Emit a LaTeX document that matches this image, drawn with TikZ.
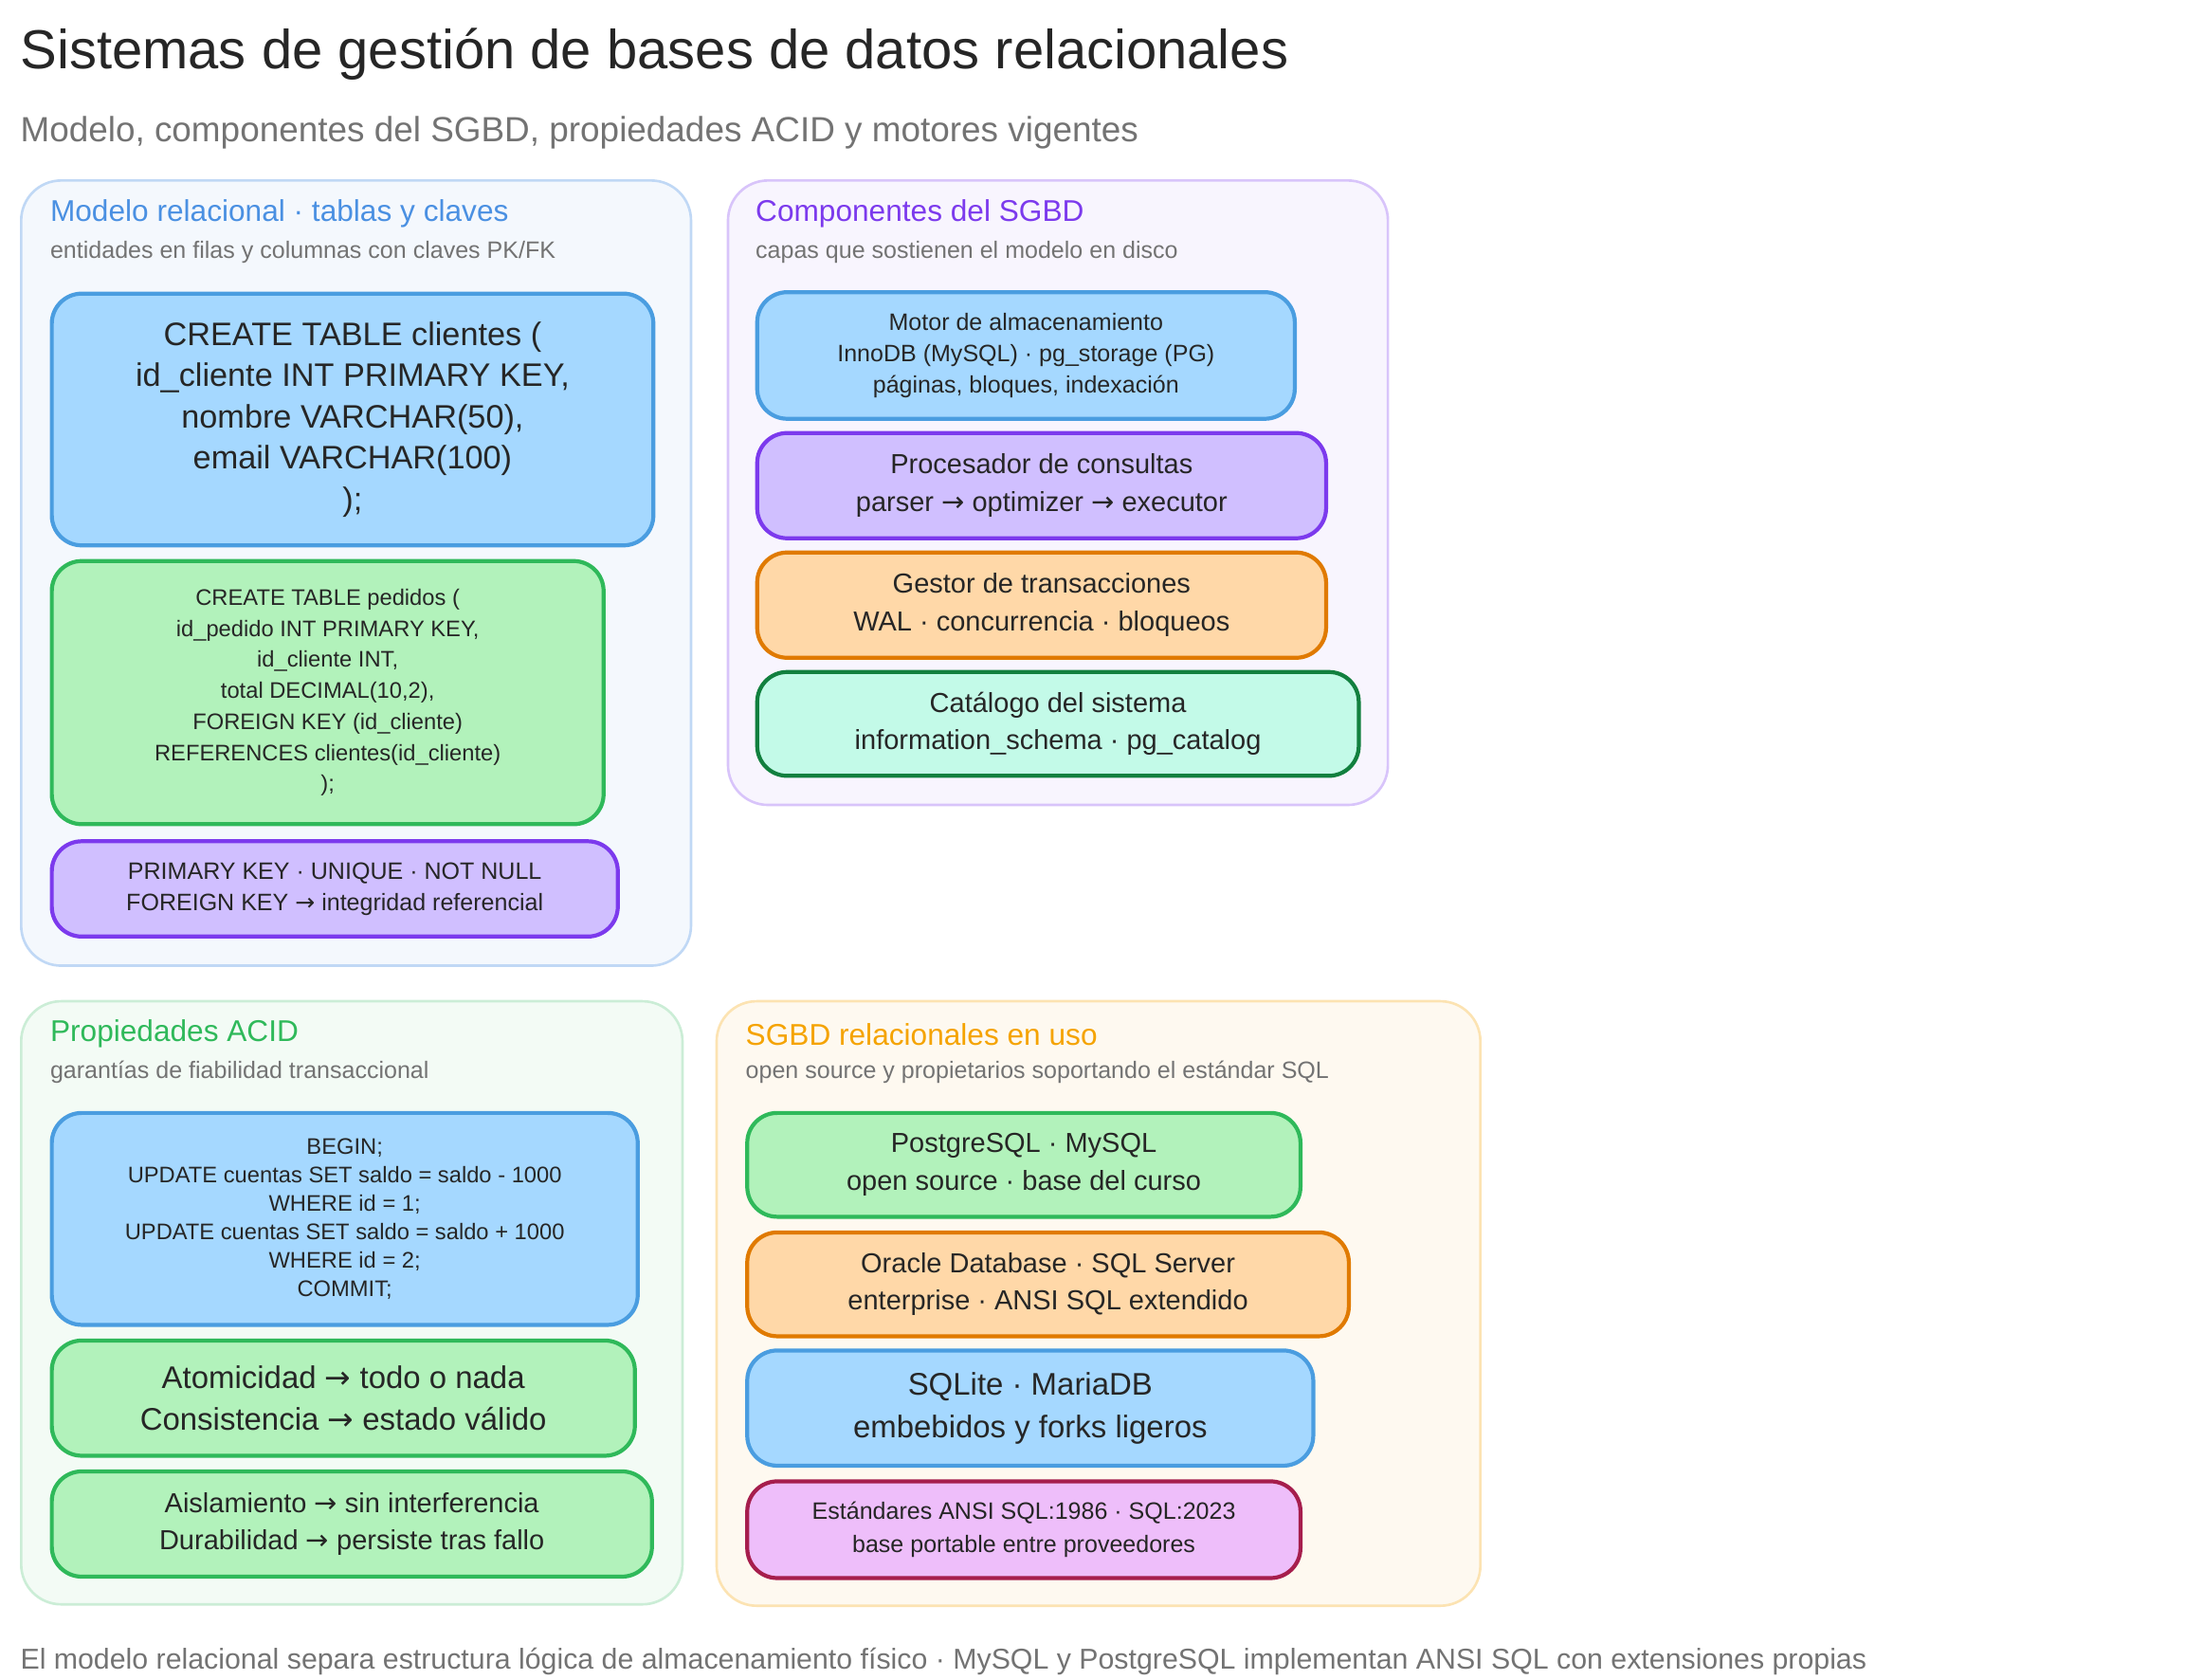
\documentclass[tikz,border=0pt]{standalone}
\usepackage{fontspec}
\setmainfont{Liberation Sans}
\newfontfamily\symfont{DejaVu Sans}
\newcommand{\ar}{{\symfont →}}
\definecolor{blueFill}{HTML}{A5D8FF}\definecolor{blueLine}{HTML}{4A9DE0}
\definecolor{greenFill}{HTML}{B2F2BB}\definecolor{greenLine}{HTML}{2FB95A}
\definecolor{purpleFill}{HTML}{D0BFFF}\definecolor{purpleLine}{HTML}{7C3AED}
\definecolor{orangeFill}{HTML}{FFD8A8}\definecolor{orangeLine}{HTML}{E07A00}
\definecolor{tealFill}{HTML}{C3FAE8}\definecolor{tealLine}{HTML}{12803F}
\definecolor{pinkFill}{HTML}{EEBEFA}\definecolor{pinkLine}{HTML}{A61E4D}
\definecolor{titleBlue}{HTML}{4A90E2}\definecolor{titleOrange}{HTML}{F5A300}

\begin{document}
\begin{tikzpicture}[x=0.02cm,y=-0.02cm,
    panel/.style 2 args={fill=#1, draw=#2, rounded corners=16pt, line width=1pt, anchor=north west, inner sep=0},
    box/.style 2 args={fill=#1, draw=#2, rounded corners=12pt, line width=1.6pt, anchor=north west, inner sep=0, align=center, text=black!85},
    ptitle/.style={anchor=west, inner sep=0, font=\fontsize{12}{14}\selectfont},
    psub/.style={anchor=west, inner sep=0, text=black!55, font=\fontsize{9.5}{12}\selectfont}]
    \useasboundingbox (0,0) rectangle (1549,1181);

    \node[anchor=west, inner sep=0, text=black!85, font=\fontsize{22}{26}\selectfont] (title) at (14,38) {Sistemas de gestión de bases de datos relacionales};
    \node[anchor=west, inner sep=0, text=black!55, font=\fontsize{14}{17}\selectfont] (subtitle) at (14,93) {Modelo, componentes del SGBD, propiedades ACID y motores vigentes};

    % modelo relacional
    \node[panel={titleBlue!6}{titleBlue!35}, minimum width=471*0.02cm, minimum height=552*0.02cm] (pRel) at (14,126) {};
    \node[ptitle, text=titleBlue] (pRelT) at (35,150) {Modelo relacional · tablas y claves};
    \node[psub] (pRelS) at (35,177) {entidades en filas y columnas con claves PK/FK};
    \node[box={blueFill}{blueLine}, minimum width=423*0.02cm, minimum height=177*0.02cm, font=\fontsize{13}{16.5}\selectfont] (clientes) at (35,205)
        {CREATE TABLE clientes (\\id\_cliente INT PRIMARY KEY,\\nombre VARCHAR(50),\\email VARCHAR(100)\\);};
    \node[box={greenFill}{greenLine}, minimum width=388*0.02cm, minimum height=185*0.02cm, font=\fontsize{9}{12.4}\selectfont] (pedidos) at (35,393)
        {CREATE TABLE pedidos (\\id\_pedido INT PRIMARY KEY,\\id\_cliente INT,\\total DECIMAL(10,2),\\FOREIGN KEY (id\_cliente)\\REFERENCES clientes(id\_cliente)\\);};
    \node[box={purpleFill}{purpleLine}, minimum width=398*0.02cm, minimum height=67*0.02cm, font=\fontsize{9.5}{12.5}\selectfont] (claves) at (35,590)
        {PRIMARY KEY · UNIQUE · NOT NULL\\FOREIGN KEY \ar{} integridad referencial};

    % componentes
    \node[panel={purpleLine!5}{purpleLine!30}, minimum width=464*0.02cm, minimum height=439*0.02cm] (pComp) at (511,126) {};
    \node[ptitle, text=purpleLine] (pCompT) at (531,150) {Componentes del SGBD};
    \node[psub] (pCompS) at (531,177) {capas que sostienen el modelo en disco};
    \node[box={blueFill}{blueLine}, minimum width=378*0.02cm, minimum height=89*0.02cm, font=\fontsize{9.5}{12.5}\selectfont] (motor) at (531,204)
        {Motor de almacenamiento\\InnoDB (MySQL) · pg\_storage (PG)\\páginas, bloques, indexación};
    \node[box={purpleFill}{purpleLine}, minimum width=400*0.02cm, minimum height=74*0.02cm, font=\fontsize{11}{15}\selectfont] (procesador) at (531,303)
        {Procesador de consultas\\parser \ar{} optimizer \ar{} executor};
    \node[box={orangeFill}{orangeLine}, minimum width=400*0.02cm, minimum height=74*0.02cm, font=\fontsize{11}{15}\selectfont] (gestor) at (531,387)
        {Gestor de transacciones\\WAL · concurrencia · bloqueos};
    \node[box={tealFill}{tealLine}, minimum width=423*0.02cm, minimum height=73*0.02cm, font=\fontsize{11}{15}\selectfont] (catalogo) at (531,471)
        {Catálogo del sistema\\information\_schema · pg\_catalog};

    % ACID
    \node[panel={greenLine!6}{greenLine!25}, minimum width=465*0.02cm, minimum height=424*0.02cm] (pAcid) at (14,703) {};
    \node[ptitle, text=greenLine] (pAcidT) at (35,727) {Propiedades ACID};
    \node[psub] (pAcidS) at (35,754) {garantías de fiabilidad transaccional};
    \node[box={blueFill}{blueLine}, minimum width=412*0.02cm, minimum height=149*0.02cm, font=\fontsize{9}{11.4}\selectfont] (transaccion) at (35,781)
        {BEGIN;\\UPDATE cuentas SET saldo = saldo - 1000\\WHERE id = 1;\\UPDATE cuentas SET saldo = saldo + 1000\\WHERE id = 2;\\COMMIT;};
    \node[box={greenFill}{greenLine}, minimum width=410*0.02cm, minimum height=81*0.02cm, font=\fontsize{12.5}{17}\selectfont] (ac) at (35,941)
        {Atomicidad \ar{} todo o nada\\Consistencia \ar{} estado válido};
    \node[box={greenFill}{greenLine}, minimum width=422*0.02cm, minimum height=74*0.02cm, font=\fontsize{11}{14.5}\selectfont] (id) at (35,1033)
        {Aislamiento \ar{} sin interferencia\\Durabilidad \ar{} persiste tras fallo};

    % SGBD en uso
    \node[panel={titleOrange!6}{titleOrange!30}, minimum width=537*0.02cm, minimum height=425*0.02cm] (pUso) at (503,703) {};
    \node[ptitle, text=titleOrange] (pUsoT) at (524,727) {SGBD relacionales en uso};
    \node[psub] (pUsoS) at (524,754) {open source y propietarios soportando el estándar SQL};
    \node[box={greenFill}{greenLine}, minimum width=389*0.02cm, minimum height=73*0.02cm, font=\fontsize{11}{15}\selectfont] (libres) at (524,781)
        {PostgreSQL · MySQL\\open source · base del curso};
    \node[box={orangeFill}{orangeLine}, minimum width=423*0.02cm, minimum height=73*0.02cm, font=\fontsize{11}{15}\selectfont] (comerciales) at (524,865)
        {Oracle Database · SQL Server\\enterprise · ANSI SQL extendido};
    \node[box={blueFill}{blueLine}, minimum width=398*0.02cm, minimum height=81*0.02cm, font=\fontsize{12.5}{17}\selectfont] (ligeros) at (524,948)
        {SQLite · MariaDB\\embebidos y forks ligeros};
    \node[box={pinkFill}{pinkLine}, minimum width=389*0.02cm, minimum height=68*0.02cm, font=\fontsize{9.5}{13}\selectfont] (estandares) at (524,1040)
        {Estándares ANSI SQL:1986 · SQL:2023\\base portable entre proveedores};

    \node[anchor=west, inner sep=0, text=black!55, font=\fontsize{11.5}{14}\selectfont] (footer) at (14,1168)
        {El modelo relacional separa estructura lógica de almacenamiento físico · MySQL y PostgreSQL implementan ANSI SQL con extensiones propias};
\end{tikzpicture}
\end{document}
